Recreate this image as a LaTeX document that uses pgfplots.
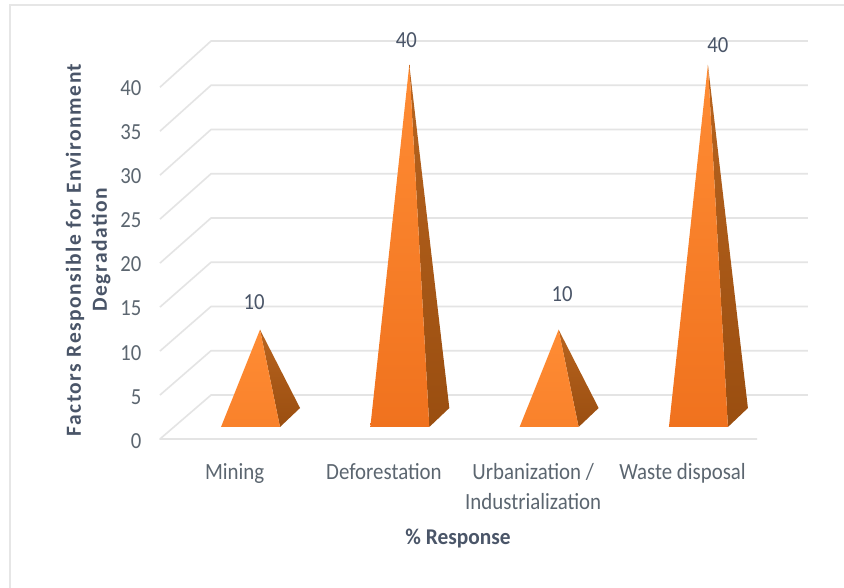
\documentclass[border=0pt]{standalone}
\usepackage{fontspec}
\setmainfont{Carlito}
\newfontfamily\narrowfont[FakeStretch=0.9]{Carlito}
\newfontfamily\narrowbold[FakeStretch=0.95,BoldFont={Carlito Bold}]{Carlito Bold}
\newfontfamily\widebold[LetterSpace=7]{Carlito Bold}
\usepackage{pgfplots}
\pgfplotsset{compat=1.18}
\definecolor{gridc}{HTML}{E4E4E4}
\definecolor{framec}{HTML}{E6E6E6}
\definecolor{slate}{HTML}{4A5568}
\definecolor{ticktext}{HTML}{5C6670}
\definecolor{facetop}{HTML}{FF8C34}
\definecolor{facebot}{HTML}{F0721E}
\definecolor{sidetop}{HTML}{B8641F}
\definecolor{sidebot}{HTML}{9A4E10}
\begin{document}
\begin{tikzpicture}
\path[use as bounding box] (0,0) rectangle (844pt,588pt);
\fill[white] (0,0) rectangle (844pt,588pt);
% outer chart frame: only the top and left edges are visible
\draw[framec,line width=2.2pt] (10pt,0) -- (10pt,583pt) -- (844pt,583pt);
\begin{axis}[
  at={(146pt,143pt)},anchor=south west,
  scale only axis,width=674pt,height=415pt,
  xmin=-0.7636,xmax=3.7508,ymin=-3.058,ymax=43.94,
  clip=false,
  axis line style={draw=none},
  tick style={draw=none},
  major tick length=0pt,
  xtick={-0.17,0.83,1.83,2.83},
  xticklabels={Mining,Deforestation,{Urbanization /\\Industrialization},Waste disposal},
  xticklabel style={font=\narrowfont\fontsize{23.2}{30}\selectfont,text=ticktext,align=center,anchor=north,yshift=-15pt},
  ytick={-2.6,2.4,7.4,12.4,17.4,22.4,27.4,32.4,37.4},
  yticklabels={0,5,10,15,20,25,30,35,40},
  yticklabel style={font=\narrowfont\fontsize{23}{24}\selectfont,text=ticktext,anchor=east,xshift=-1pt},
  xlabel={\% Response},
  xlabel style={at={(rel axis cs:0.463,-0.2265)},anchor=center,font=\narrowbold\fontsize{22.5}{24}\selectfont,text=slate},
  ylabel={Factors Responsible for Environment\\Degradation},
  ylabel style={at={(rel axis cs:-0.086,0.47)},rotate=0,anchor=center,font=\widebold\fontsize{21.5}{26}\selectfont,text=slate,align=center},
]
% receding gridlines of the floor and back wall
\addplot[gridc,line width=1.6pt,line join=round,unbounded coords=jump] coordinates {
 (3.329,-2.38) (-0.670,-2.38) (-0.328,2.60) (3.670,2.60) (nan,nan)
 (-0.670,2.60) (-0.328,7.62) (3.670,7.62) (nan,nan)
 (-0.670,7.58) (-0.328,12.63) (3.670,12.63) (nan,nan)
 (-0.670,12.56) (-0.328,17.64) (3.670,17.64) (nan,nan)
 (-0.670,17.54) (-0.328,22.65) (3.670,22.65) (nan,nan)
 (-0.670,22.52) (-0.328,27.66) (3.670,27.66) (nan,nan)
 (-0.670,27.50) (-0.328,32.67) (3.670,32.67) (nan,nan)
 (-0.670,32.48) (-0.328,37.68) (3.670,37.68) (nan,nan)
 (-0.670,37.46) (-0.328,42.69) (3.670,42.69)
};
% Mining = 10
\addplot[draw=none,top color=sidetop,bottom color=sidebot] coordinates {(0.134,-1.02) (0.268,1.13) (0,10)} -- cycle;
\addplot[draw=none,top color=facetop,bottom color=facebot!40!facetop] coordinates {(-0.261,-1.02) (0.134,-1.02) (0,10)} -- cycle;
% Deforestation = 40
\addplot[draw=none,top color=sidetop,bottom color=sidebot] coordinates {(1.134,-1.02) (1.268,1.13) (1,40)} -- cycle;
\addplot[draw=none,top color=facetop,bottom color=facebot] coordinates {(0.739,-1.02) (1.134,-1.02) (1,40)} -- cycle;
% Urbanization / Industrialization = 10
\addplot[draw=none,top color=sidetop,bottom color=sidebot] coordinates {(2.134,-1.02) (2.268,1.13) (2,10)} -- cycle;
\addplot[draw=none,top color=facetop,bottom color=facebot!40!facetop] coordinates {(1.739,-1.02) (2.134,-1.02) (2,10)} -- cycle;
% Waste disposal = 40
\addplot[draw=none,top color=sidetop,bottom color=sidebot] coordinates {(3.134,-1.02) (3.268,1.13) (3,40)} -- cycle;
\addplot[draw=none,top color=facetop,bottom color=facebot] coordinates {(2.739,-1.02) (3.134,-1.02) (3,40)} -- cycle;
% value labels
\tikzset{vlab/.style={font=\narrowfont\fontsize{23}{24}\selectfont,text=slate,anchor=center}}
\node[vlab,xshift=-6pt,yshift=28pt] at (axis cs:0,10) {10};
\node[vlab,xshift=-3pt,yshift=25pt] at (axis cs:1,40) {40};
\node[vlab,xshift=3.5pt,yshift=36pt] at (axis cs:2,10) {10};
\node[vlab,xshift=10pt,yshift=20pt] at (axis cs:3,40) {40};
\end{axis}
\end{tikzpicture}
\end{document}
